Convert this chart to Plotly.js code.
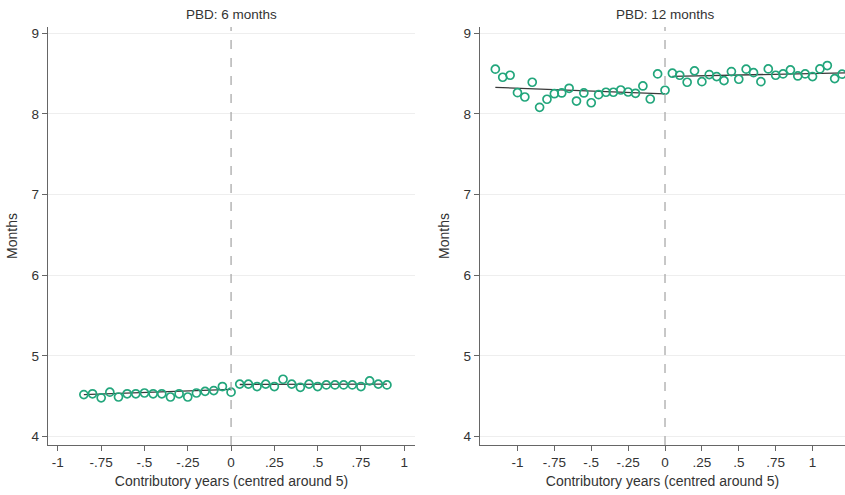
<!DOCTYPE html>
<html><head><meta charset="utf-8">
<script src="https://cdn.plot.ly/plotly-3.0.1.min.js"></script>
<style>html,body{margin:0;padding:0;background:#fff}</style>
</head><body><div id="chart" style="width:845px;height:495px"></div>
<script>
const panelTitles = ['PBD: 6 months', 'PBD: 12 months'];
const xAxisTitle = 'Contributory years (centred around 5)';
const yAxisTitle = 'Months';
const xTickVals = [-1, -0.75, -0.5, -0.25, 0, 0.25, 0.5, 0.75, 1];
const xTickText = ['-1', '-.75', '-.5', '-.25', '0', '.25', '.5', '.75', '1'];
const yTickVals = [4, 5, 6, 7, 8, 9];

// PBD 6 months
const pbd6LeftX = [-0.85,-0.8,-0.75,-0.7,-0.65,-0.6,-0.55,-0.5,-0.45,-0.4,-0.35,-0.3,-0.25,-0.2,-0.15,-0.1,-0.05,0];
const pbd6LeftY = [4.52,4.53,4.48,4.55,4.49,4.53,4.53,4.54,4.53,4.53,4.49,4.53,4.49,4.54,4.56,4.57,4.62,4.55];
const pbd6RightX = [0.05,0.1,0.15,0.2,0.25,0.3,0.35,0.4,0.45,0.5,0.55,0.6,0.65,0.7,0.75,0.8,0.85,0.9];
const pbd6RightY = [4.65,4.65,4.62,4.65,4.62,4.71,4.65,4.61,4.65,4.62,4.64,4.64,4.64,4.64,4.62,4.69,4.65,4.64];
const pbd6FitLeftX = [-0.85, 0];
const pbd6FitLeftY = [4.52, 4.585];
const pbd6FitRightX = [0.05, 0.9];
const pbd6FitRightY = [4.645, 4.65];

// PBD 12 months
const pbd12LeftX = [-1.15,-1.1,-1.05,-1,-0.95,-0.9,-0.85,-0.8,-0.75,-0.7,-0.65,-0.6,-0.55,-0.5,-0.45,-0.4,-0.35,-0.3,-0.25,-0.2,-0.15,-0.1,-0.05,0];
const pbd12LeftY = [8.555,8.455,8.48,8.264,8.21,8.393,8.082,8.182,8.251,8.26,8.318,8.16,8.26,8.139,8.239,8.269,8.269,8.297,8.272,8.256,8.347,8.185,8.496,8.294];
const pbd12RightX = [0.05,0.1,0.15,0.2,0.25,0.3,0.35,0.4,0.45,0.5,0.55,0.6,0.65,0.7,0.75,0.8,0.85,0.9,0.95,1,1.05,1.1,1.15,1.2];
const pbd12RightY = [8.505,8.48,8.393,8.534,8.40,8.488,8.463,8.413,8.525,8.43,8.555,8.512,8.40,8.558,8.48,8.496,8.546,8.471,8.496,8.463,8.558,8.60,8.438,8.493];
const pbd12FitLeftX = [-1.15, 0];
const pbd12FitLeftY = [8.33, 8.25];
const pbd12FitRightX = [0.05, 1.22];
const pbd12FitRightY = [8.465, 8.51];

const green = '#22a67c';
const fitColor = '#3a3a3a';

function pts(x, y, xa, ya) {
  return {x: x, y: y, xaxis: xa, yaxis: ya, type: 'scatter', mode: 'markers',
    marker: {symbol: 'circle-open', size: 8, color: green, line: {width: 1.7, color: green}},
    showlegend: false, hoverinfo: 'x+y'};
}
function fit(x, y, xa, ya) {
  return {x: x, y: y, xaxis: xa, yaxis: ya, type: 'scatter', mode: 'lines',
    line: {color: fitColor, width: 1.3}, showlegend: false, hoverinfo: 'skip'};
}

const data = [
  fit(pbd6FitLeftX, pbd6FitLeftY, 'x', 'y'),
  fit(pbd6FitRightX, pbd6FitRightY, 'x', 'y'),
  pts(pbd6LeftX, pbd6LeftY, 'x', 'y'),
  pts(pbd6RightX, pbd6RightY, 'x', 'y'),
  fit(pbd12FitLeftX, pbd12FitLeftY, 'x2', 'y2'),
  fit(pbd12FitRightX, pbd12FitRightY, 'x2', 'y2'),
  pts(pbd12LeftX, pbd12LeftY, 'x2', 'y2'),
  pts(pbd12RightX, pbd12RightY, 'x2', 'y2')
];

const W = 845;
const tickFont = {family: 'Liberation Sans, Arial, sans-serif', size: 13.5, color: '#333'};
const titleFont = {family: 'Liberation Sans, Arial, sans-serif', size: 14, color: '#333'};
const yRange = [3.895, 9.078];

function xAxis(domain, range, anchor) {
  return {domain: domain, range: range, anchor: anchor, tickvals: xTickVals, ticktext: xTickText,
    ticks: 'outside', ticklen: 5, tickcolor: '#666', showline: true, linecolor: '#666', linewidth: 1.2,
    showgrid: false, zeroline: false, automargin: false, tickfont: tickFont,
    title: {text: xAxisTitle, font: titleFont, standoff: 6}};
}
function yAxis(anchor, standoff) {
  return {domain: [0, 1], range: yRange, anchor: anchor, tickvals: yTickVals,
    ticks: 'outside', ticklen: 5, tickcolor: '#666', showline: true, linecolor: '#666', linewidth: 1.2,
    showgrid: true, gridcolor: '#eeeeee', gridwidth: 1, zeroline: false, automargin: false,
    tickfont: tickFont, title: {text: yAxisTitle, font: titleFont, standoff: standoff}};
}

const xd1 = [48 / W, 415 / W];
const xd2 = [480 / W, 1];

const layout = {
  width: 845, height: 495,
  margin: {l: 0, r: 0, t: 27, b: 50},
  paper_bgcolor: '#fff', plot_bgcolor: '#fff',
  font: tickFont,
  showlegend: false,
  xaxis: xAxis(xd1, [-1.057, 1.062], 'y'),
  yaxis: yAxis('x', 10),
  xaxis2: xAxis(xd2, [-1.254, 1.22], 'y2'),
  yaxis2: yAxis('x2', 10),
  shapes: [
    {type: 'line', xref: 'x', yref: 'y domain', x0: 0, x1: 0, y0: 0, y1: 1,
     line: {color: '#aaaaaa', width: 1.3, dash: 'dash'}},
    {type: 'line', xref: 'x2', yref: 'y2 domain', x0: 0, x1: 0, y0: 0, y1: 1,
     line: {color: '#aaaaaa', width: 1.3, dash: 'dash'}}
  ],
  annotations: [
    {text: panelTitles[0], xref: 'x', yref: 'paper', x: 0, y: 1, yshift: 13, showarrow: false,
     xanchor: 'center', yanchor: 'middle', font: tickFont},
    {text: panelTitles[1], xref: 'x2', yref: 'paper', x: 0, y: 1, yshift: 13, showarrow: false,
     xanchor: 'center', yanchor: 'middle', font: tickFont}
  ]
};

Plotly.newPlot('chart', data, layout, {displayModeBar: false, staticPlot: true});
</script>
</body></html>
